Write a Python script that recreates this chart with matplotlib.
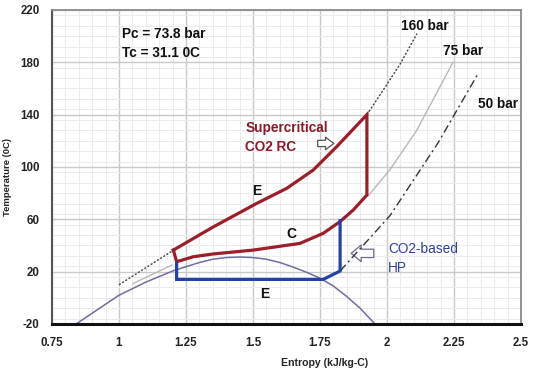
import matplotlib
matplotlib.use("Agg")
import matplotlib.pyplot as plt
from matplotlib.ticker import MultipleLocator
from matplotlib.patches import FancyArrowPatch

plt.rcParams['font.family'] = ['Liberation Sans', 'DejaVu Sans']

# Saturation dome
dome_s = [0.84, 0.92, 1.0, 1.1, 1.2, 1.25, 1.3, 1.35, 1.4, 1.45, 1.5, 1.55, 1.6, 1.65, 1.7, 1.75, 1.8, 1.85, 1.9, 1.955]
dome_T = [-20, -9, 2, 12, 20.5, 23.8, 27, 29.5, 30.8, 31.2, 30.8, 29.5, 27, 23.5, 19.5, 15, 9, 1, -8, -20]

# 160 bar isobar (dotted, visible parts)
p160_low_s = [1.0, 1.2]
p160_low_T = [10, 36]
p160_up_s = [1.925, 1.98, 2.05, 2.112]
p160_up_T = [140, 157, 179, 202]

# 75 bar isobar (light gray)
p75_low_s = [1.053, 1.197]
p75_low_T = [11, 25]
p75_up_s = [1.93, 2.011, 2.111, 2.246]
p75_up_T = [78, 98, 128, 180]

# 50 bar isobar (dashed)
p50_s = [1.825, 1.836, 2.011, 2.191, 2.336]
p50_T = [20.5, 23, 62.8, 118.6, 170]

# Supercritical CO2 Rankine cycle
rc_s = [1.203, 1.35, 1.514, 1.626, 1.725, 1.812, 1.925, 1.925, 1.874, 1.825, 1.762, 1.675, 1.501, 1.35, 1.277, 1.215, 1.203]
rc_T = [36.5, 54, 72.2, 83.7, 97.7, 115.5, 140, 78.6, 67.1, 58.3, 49.3, 41.6, 36.5, 33.5, 31.4, 27.6, 36.5]

# CO2-based heat pump
hp_s = [1.215, 1.215, 1.762, 1.825, 1.825]
hp_T = [26.4, 14.1, 14.1, 20.5, 59]

xticks = [0.75, 1, 1.25, 1.5, 1.75, 2, 2.25, 2.5]
xticklabels = ['0.75', '1', '1.25', '1.5', '1.75', '2', '2.25', '2.5']
yticks = [-20, 20, 60, 100, 140, 180, 220]
yticklabels = ['-20', '20', '60', '100', '140', '180', '220']

fig = plt.figure(figsize=(5.36, 3.76), dpi=100)
ax = fig.add_axes([52/536, 1-324/376, (521-52)/536, (324-10)/376])

ax.set_xlim(0.75, 2.5)
ax.set_ylim(-20, 220)
ax.set_xticks(xticks)
ax.set_xticklabels(xticklabels)
ax.set_yticks(yticks)
ax.set_yticklabels(yticklabels)
ax.xaxis.set_minor_locator(MultipleLocator(0.05))
ax.yaxis.set_minor_locator(MultipleLocator(8))
ax.grid(which='major', color='#c8c8c8', lw=1.0)
ax.grid(which='minor', color='#ebebeb', lw=0.7)
ax.set_axisbelow(True)
ax.tick_params(which='both', length=0)
ax.tick_params(axis='x', pad=9)
ax.tick_params(axis='y', pad=9)
for lbl in ax.get_xticklabels() + ax.get_yticklabels():
    lbl.set_fontsize(8.3)
    lbl.set_fontweight('bold')
    lbl.set_color('#222222')

for side in ['top', 'right']:
    ax.spines[side].set_color('#8a8a8a')
    ax.spines[side].set_linewidth(1.3)
ax.spines['left'].set_color('#555555')
ax.spines['left'].set_linewidth(1.5)
ax.spines['bottom'].set_color('#111111')
ax.spines['bottom'].set_linewidth(2.2)

ax.plot(dome_s, dome_T, color='#6e6e9c', lw=1.1)
ax.plot(p160_low_s, p160_low_T, color='#444444', lw=1.0, ls=(0, (1.5, 1.2)))
ax.plot(p160_up_s, p160_up_T, color='#444444', lw=1.0, ls=(0, (1.5, 1.2)))
ax.plot(p75_low_s, p75_low_T, color='#b8b8b8', lw=1.0)
ax.plot(p75_up_s, p75_up_T, color='#b8b8b8', lw=1.0)
ax.plot(p50_s, p50_T, color='#333333', lw=1.0, ls=(0, (6, 2.5, 1.5, 2.5)))
ax.plot(rc_s, rc_T, color='#9b1f2a', lw=2.3, solid_joinstyle='miter')
ax.plot(hp_s, hp_T, color='#2441a8', lw=2.3, solid_joinstyle='miter')

# hollow arrows
ax.add_patch(FancyArrowPatch((1.731, 118), (1.812, 118),
                             arrowstyle='simple,head_width=0.9,head_length=0.6,tail_width=0.45',
                             mutation_scale=10, fc='white', ec='#555555', lw=0.9))
ax.add_patch(FancyArrowPatch((1.961, 34), (1.856, 34),
                             arrowstyle='simple,head_width=1.0,head_length=0.6,tail_width=0.5',
                             mutation_scale=12, fc='white', ec='#6a6a8a', lw=0.9))

ax.text(1.01, 201.5, 'Pc = 73.8 bar', fontsize=9.8, fontweight='bold', color='#111111', va='center', ha='left')
ax.text(1.01, 187, 'Tc = 31.1 0C', fontsize=9.8, fontweight='bold', color='#111111', va='center', ha='left')
ax.text(2.053, 208, '160 bar', fontsize=9.8, fontweight='bold', color='#111111', va='center', ha='left')
ax.text(2.21, 189, '75 bar', fontsize=9.8, fontweight='bold', color='#111111', va='center', ha='left')
ax.text(2.34, 148, '50 bar', fontsize=9.8, fontweight='bold', color='#111111', va='center', ha='left')
ax.text(1.472, 130, 'Supercritical', fontsize=9.8, fontweight='bold', color='#8a1a2a', va='center', ha='left')
ax.text(1.472, 115, 'CO2 RC', fontsize=9.8, fontweight='bold', color='#8a1a2a', va='center', ha='left')
ax.text(1.514, 82, 'E', fontsize=10, fontweight='bold', color='#111111', va='center', ha='center')
ax.text(1.642, 48.5, 'C', fontsize=10, fontweight='bold', color='#111111', va='center', ha='center')
ax.text(1.543, 3, 'E', fontsize=10, fontweight='bold', color='#111111', va='center', ha='center')
ax.text(2.005, 37, 'CO2-based', fontsize=9.8, color='#2f3fa0', va='center', ha='left')
ax.text(2.005, 22.5, 'HP', fontsize=9.8, color='#2f3fa0', va='center', ha='left')

fig.text(8/536, 1-177/376, 'Temperature (0C)', rotation=90, fontsize=6.8, fontweight='bold',
         va='center', ha='center', color='#222222')
fig.text(325/536, 1-363/376, 'Entropy (kJ/kg-C)', fontsize=7.6, fontweight='bold',
         va='center', ha='center', color='#222222')

fig.savefig('out.png', dpi=100)
